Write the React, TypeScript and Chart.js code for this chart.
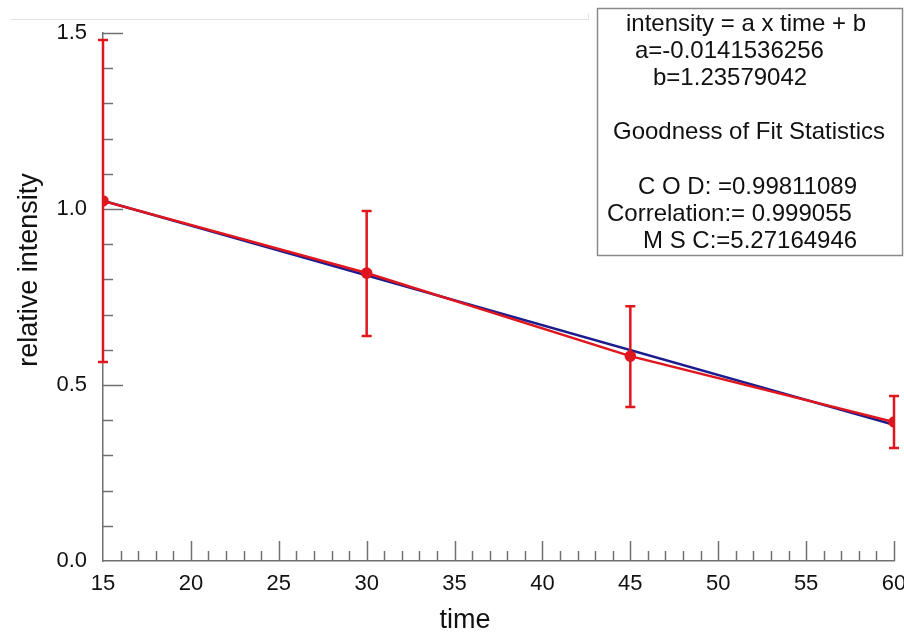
import React, { useEffect, useRef } from "react";
import { Chart, registerables } from "chart.js";

Chart.register(...registerables);

// ---- data ----
const timeValues = [15, 30, 45, 60];
const intensityValues = [1.023, 0.818, 0.582, 0.395];
const errorLow = [0.565, 0.639, 0.4375, 0.321];
const errorHigh = [1.48, 0.994, 0.724, 0.469];
const fitTime = [15, 60];
const fitIntensity = [1.0235, 0.3866];
const xTickLabels = ["15", "20", "25", "30", "35", "40", "45", "50", "55", "60"];
const yTickLabels = ["0.0", "0.5", "1.0", "1.5"];
const xRange = [15, 60];
const yRange = [0, 1.5];
const xMinorStep = 1;
const xMajorStep = 5;
const yMinorStep = 0.1;
const yMajorStep = 0.5;
const xTitle = "time";
const yTitle = "relative intensity";
const statsLines = [
  "intensity = a x time + b",
  "a=-0.0141536256",
  "b=1.23579042",
  "",
  "Goodness of Fit Statistics",
  "",
  "C O D: =0.99811089",
  "Correlation:= 0.999055",
  "M S C:=5.27164946",
];
const statsLineX = [626, 635, 653, 0, 613, 0, 638, 607, 643];

const RED = "#e0161e";
const BLUE = "#1c1c8f";
const AXIS = "#707070";
const TEXT = "#111111";
const FONT = "'Liberation Sans', Arial, sans-serif";

const innerTicks = {
  id: "innerTicks",
  beforeDatasetsDraw(chart: any) {
    const { ctx, scales } = chart;
    const xs = scales.x;
    const ys = scales.y;
    ctx.save();
    // faint top line
    ctx.strokeStyle = "#e2e2e2";
    ctx.lineWidth = 1;
    ctx.beginPath();
    ctx.moveTo(10, 19.5);
    ctx.lineTo(588.5, 19.5);
    ctx.lineTo(588.5, 14);
    ctx.stroke();

    ctx.strokeStyle = AXIS;
    ctx.lineWidth = 1.5;
    const nx = Math.round((xRange[1] - xRange[0]) / xMinorStep);
    for (let i = 1; i <= nx; i++) {
      const v = xRange[0] + i * xMinorStep;
      const major = Math.abs(v / xMajorStep - Math.round(v / xMajorStep)) < 1e-6;
      const len = major ? 20 : 10;
      const px = Math.round(xs.getPixelForValue(v)) + 0.5;
      ctx.beginPath();
      ctx.moveTo(px, ys.bottom);
      ctx.lineTo(px, ys.bottom - len);
      ctx.stroke();
    }
    const ny = Math.round((yRange[1] - yRange[0]) / yMinorStep);
    for (let i = 1; i <= ny; i++) {
      const v = yRange[0] + i * yMinorStep;
      const major = Math.abs(v / yMajorStep - Math.round(v / yMajorStep)) < 1e-6;
      const len = major ? 20 : 10;
      const py = Math.round(ys.getPixelForValue(v)) + 0.5;
      ctx.beginPath();
      ctx.moveTo(xs.left, py);
      ctx.lineTo(xs.left + len, py);
      ctx.stroke();
    }
    ctx.restore();
  },
};

const errorBars = {
  id: "errorBars",
  afterDatasetsDraw(chart: any) {
    const { ctx, scales } = chart;
    const xs = scales.x;
    const ys = scales.y;
    ctx.save();
    ctx.strokeStyle = RED;
    ctx.lineWidth = 2.5;
    for (let i = 0; i < timeValues.length; i++) {
      const px = xs.getPixelForValue(timeValues[i]);
      const yl = ys.getPixelForValue(errorLow[i]);
      const yh = ys.getPixelForValue(errorHigh[i]);
      ctx.beginPath();
      ctx.moveTo(px, yl);
      ctx.lineTo(px, yh);
      ctx.moveTo(px - 5, yl);
      ctx.lineTo(px + 5, yl);
      ctx.moveTo(px - 5, yh);
      ctx.lineTo(px + 5, yh);
      ctx.stroke();
    }
    ctx.restore();
  },
};

const axisTitles = {
  id: "axisTitles",
  afterDraw(chart: any) {
    const { ctx } = chart;
    ctx.save();
    ctx.fillStyle = TEXT;
    ctx.font = `27px ${FONT}`;
    ctx.textAlign = "center";
    ctx.textBaseline = "middle";
    ctx.fillText(xTitle, 465, 621);
    ctx.translate(30, 270);
    ctx.rotate(-Math.PI / 2);
    ctx.fillText(yTitle, 0, 0);
    ctx.restore();
  },
};

const statsBox = {
  id: "statsBox",
  afterDraw(chart: any) {
    const { ctx } = chart;
    ctx.save();
    ctx.fillStyle = "#ffffff";
    ctx.fillRect(597, 8, 305, 247);
    ctx.strokeStyle = "#8a8a8a";
    ctx.lineWidth = 1.5;
    ctx.strokeRect(597.5, 8.5, 305, 247);
    ctx.fillStyle = TEXT;
    ctx.font = `24px ${FONT}`;
    ctx.textBaseline = "alphabetic";
    ctx.textAlign = "left";
    statsLines.forEach((line, i) => {
      if (!line) return;
      ctx.fillText(line, statsLineX[i], 31 + i * 27.1);
    });
    ctx.restore();
  },
};

export default function App() {
  const canvasRef = useRef<HTMLCanvasElement | null>(null);

  useEffect(() => {
    document.body.style.margin = "0";
    const canvas = canvasRef.current;
    if (!canvas) return;
    const chart = new Chart(canvas, {
      type: "line",
      data: {
        datasets: [
          {
            label: "relative intensity",
            data: timeValues.map((t, i) => ({ x: t, y: intensityValues[i] })),
            borderColor: RED,
            backgroundColor: RED,
            borderWidth: 2.5,
            pointRadius: 4.5,
            pointBackgroundColor: RED,
            pointBorderColor: RED,
            order: 1,
          },
          {
            label: "fit",
            data: fitTime.map((t, i) => ({ x: t, y: fitIntensity[i] })),
            borderColor: BLUE,
            backgroundColor: BLUE,
            borderWidth: 2.5,
            pointRadius: 0,
            order: 2,
          },
        ],
      },
      options: {
        responsive: false,
        animation: false,
        devicePixelRatio: 1,
        layout: { padding: { top: 33, right: 10, left: 0, bottom: 0 } },
        plugins: {
          legend: { display: false },
          tooltip: { enabled: false },
        },
        scales: {
          x: {
            type: "linear",
            min: xRange[0],
            max: xRange[1],
            grid: { display: false, drawTicks: false },
            border: { display: true, color: AXIS, width: 1.5 },
            ticks: {
              stepSize: xMajorStep,
              maxRotation: 0,
              autoSkip: false,
              color: TEXT,
              font: { family: FONT, size: 22 },
              padding: 10,
              callback: (v: any, i: number) => xTickLabels[i] ?? String(v),
            },
            title: { display: false },
            afterFit: (s: any) => {
              s.height = 75;
              s.paddingLeft = 0;
              s.paddingRight = 0;
            },
          },
          y: {
            type: "linear",
            min: yRange[0],
            max: yRange[1],
            grid: { display: false, drawTicks: false },
            border: { display: true, color: AXIS, width: 1.5 },
            ticks: {
              stepSize: yMajorStep,
              color: TEXT,
              font: { family: FONT, size: 22 },
              padding: 16,
              callback: (v: any, i: number) => yTickLabels[i] ?? String(v),
            },
            title: { display: false },
            afterFit: (s: any) => {
              s.width = 103;
              s.paddingTop = 0;
              s.paddingBottom = 0;
            },
          },
        },
      },
      plugins: [innerTicks, errorBars, axisTitles, statsBox],
    });
    return () => chart.destroy();
  }, []);

  return (
    <canvas
      ref={canvasRef}
      width={904}
      height={636}
      style={{ display: "block", width: 904, height: 636 }}
    />
  );
}
